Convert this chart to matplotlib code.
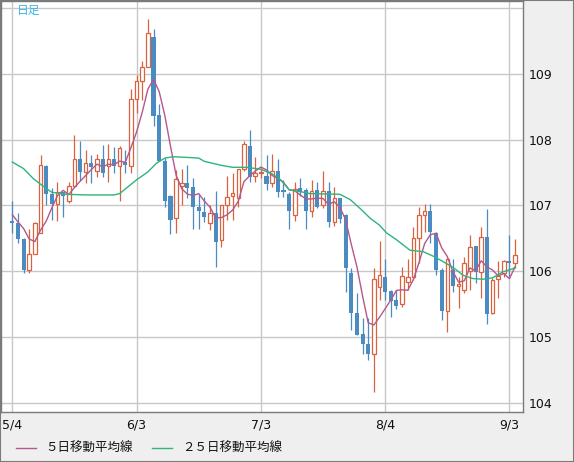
import numpy as np
import pandas as pd
import matplotlib
matplotlib.use("agg")
import matplotlib.pyplot as plt
from matplotlib.lines import Line2D
from matplotlib.patches import Rectangle

plt.rcParams['font.family'] = ['DejaVu Sans', 'Noto Sans CJK JP']

# daily USD/JPY candles, 2020-05-04 .. 2020-09-04 (one per weekday)
opens = [106.76, 106.74, 106.49, 106.02, 106.26, 106.58, 107.60, 107.17, 107.03, 107.20,
         107.07, 107.29, 107.70, 107.51, 107.64, 107.53, 107.70, 107.60, 107.70, 107.60,
         107.66, 107.60, 108.61, 108.89, 109.11, 109.56, 108.37, 107.68, 107.15, 106.81,
         107.29, 107.34, 107.28, 106.98, 106.90, 106.73, 106.88, 106.48, 107.00, 107.15,
         107.11, 107.55, 107.90, 107.45, 107.49, 107.45, 107.34, 107.52, 107.23, 107.18,
         106.85, 107.26, 107.23, 106.91, 107.23, 107.00, 107.22, 106.75, 107.11, 106.86,
         105.97, 105.36, 105.05, 104.90, 104.75, 105.76, 105.91, 105.70, 105.56, 105.50,
         105.84, 105.91, 106.50, 106.86, 106.92, 106.58, 106.02, 105.40, 106.02, 105.78,
         105.72, 106.00, 106.38, 105.99, 106.52, 105.36, 105.88, 105.98, 106.16, 106.13]
highs = [107.07, 106.89, 106.50, 106.65, 106.75, 107.77, 107.62, 107.26, 107.35, 107.21,
         107.36, 108.07, 107.98, 107.84, 107.76, 107.78, 107.92, 107.93, 107.89, 107.90,
         107.84, 108.77, 108.98, 109.19, 109.84, 109.68, 108.54, 107.72, 107.16, 107.54,
         107.55, 107.61, 107.41, 107.18, 107.13, 107.01, 107.22, 107.00, 107.45, 107.49,
         107.56, 107.98, 108.15, 107.73, 107.57, 107.77, 107.78, 107.70, 107.39, 107.20,
         107.35, 107.41, 107.26, 107.39, 107.36, 107.52, 107.35, 107.28, 107.12, 106.87,
         106.05, 105.67, 105.29, 105.29, 106.05, 106.46, 106.19, 105.71, 105.72, 106.06,
         106.19, 106.68, 106.98, 107.03, 107.03, 106.60, 106.05, 106.20, 106.19, 105.92,
         106.21, 106.55, 106.39, 106.68, 106.94, 105.90, 106.16, 106.17, 106.55, 106.49]
lows = [106.58, 106.43, 105.98, 105.98, 106.26, 106.58, 107.01, 106.78, 106.76, 106.83,
        107.04, 107.29, 107.37, 107.34, 107.34, 107.43, 107.44, 107.35, 107.49, 107.07,
        107.49, 107.50, 108.40, 108.60, 109.10, 108.21, 107.68, 106.98, 106.56, 106.58,
        107.01, 107.11, 106.65, 106.65, 106.75, 106.63, 106.07, 106.37, 106.78, 106.78,
        106.98, 107.53, 107.35, 107.35, 107.42, 107.24, 107.28, 107.13, 107.13, 106.65,
        106.77, 107.15, 106.65, 106.83, 106.96, 106.96, 106.68, 106.69, 106.73, 105.68,
        105.11, 105.03, 104.75, 104.66, 104.17, 105.56, 105.56, 105.31, 105.42, 105.46,
        105.72, 105.87, 106.12, 106.59, 106.43, 105.94, 105.26, 105.08, 105.69, 105.44,
        105.67, 105.72, 105.82, 105.59, 105.20, 105.35, 105.59, 105.92, 105.92, 106.05]
closes = [106.74, 106.49, 106.02, 106.27, 106.74, 107.61, 107.17, 107.03, 107.20, 107.14,
          107.29, 107.70, 107.51, 107.64, 107.59, 107.70, 107.50, 107.70, 107.60, 107.87,
          107.61, 108.61, 108.89, 109.10, 109.62, 108.36, 107.68, 107.07, 106.78, 107.40,
          107.34, 107.27, 106.97, 106.92, 106.83, 106.88, 106.45, 107.00, 107.13, 107.19,
          107.55, 107.94, 107.44, 107.49, 107.50, 107.33, 107.52, 107.21, 107.21, 106.92,
          107.25, 107.20, 106.91, 107.22, 106.98, 107.22, 106.75, 107.11, 106.79, 106.05,
          105.36, 105.04, 104.89, 104.75, 105.88, 105.95, 105.69, 105.55, 105.48, 105.93,
          105.91, 106.50, 106.86, 106.92, 106.59, 106.02, 105.40, 106.19, 105.77, 105.80,
          106.12, 106.37, 105.99, 106.52, 105.35, 105.87, 105.93, 106.16, 106.13, 106.25]

# 5-day MA: first four points (need April data)
ma5_head = [106.86, 106.75, 106.65, 106.49]

# 25-day MA (candle index, value)
ma25_pos = [0, 2, 3.7, 5.5, 7, 9.6, 13, 18, 19, 20, 22, 24, 25.5, 27, 28.5, 31, 33, 34, 37,
            39, 41.5, 44, 46, 47.5, 49, 51, 52.7, 58, 59.8, 61.5, 63.3, 65, 66.3, 68, 70.4,
            72.7, 74.5, 76.2, 78, 79.8, 81.5, 83.3, 85, 86.8, 88.6, 89]
ma25_val = [107.66, 107.56, 107.41, 107.29, 107.20, 107.17, 107.16, 107.16, 107.18, 107.25,
            107.39, 107.51, 107.64, 107.72, 107.74, 107.73, 107.72, 107.67, 107.61, 107.58,
            107.58, 107.55, 107.48, 107.39, 107.24, 107.21, 107.18, 107.17, 107.09, 106.96,
            106.81, 106.70, 106.58, 106.48, 106.32, 106.30, 106.23, 106.15, 106.06, 105.94,
            105.89, 105.88, 105.90, 105.99, 106.04, 106.06]

tick_idx = [0, 22, 44, 66, 88]
tick_lab = ['5/4', '6/3', '7/3', '8/4', '9/3']
y_ticks = [104, 105, 106, 107, 108, 109, 110]
y_labs = ['104', '105', '106', '107', '108', '109', '']

UP = '#d9623f'
DOWN = '#4a8bc1'
MA5_C = '#b5588a'
MA25_C = '#2fb47c'
GRID = '#c8c8c8'
BG = '#efefef'

o = np.array(opens); h = np.array(highs); l = np.array(lows); c = np.array(closes)
x = np.arange(len(o))
up = c >= o

ma5 = pd.Series(closes).rolling(5).mean().to_numpy()
ma5[:4] = ma5_head

W, H = 574, 462
fig = plt.figure(figsize=(W / 100, H / 100), dpi=100, facecolor=BG)
ax = fig.add_axes([1 / W, 50 / H, 522 / W, 411 / H])
ax.set_facecolor('white')

ax.vlines(x[up], l[up], h[up], color=UP, lw=0.9, zorder=2)
ax.vlines(x[~up], l[~up], h[~up], color=DOWN, lw=0.9, zorder=2)

body_lo = np.minimum(o, c)
body_h = np.maximum(np.abs(c - o), 0.012)
ax.bar(x[up], body_h[up], bottom=body_lo[up], width=0.62, facecolor='white',
       edgecolor=UP, linewidth=0.9, zorder=3)
ax.bar(x[~up], body_h[~up], bottom=body_lo[~up], width=0.72, color=DOWN,
       linewidth=0, zorder=3)

ax.plot(x, ma5, color=MA5_C, lw=1.0, zorder=4)
ax.plot(ma25_pos, ma25_val, color=MA25_C, lw=1.0, zorder=4)

ax.set_xlim(-2.0, 90.4)
ax.set_ylim(103.863, 110.106)
ax.set_xticks(tick_idx)
ax.set_xticklabels(tick_lab)
ax.set_yticks(y_ticks)
ax.set_yticklabels(y_labs)
ax.yaxis.tick_right()
ax.tick_params(length=0, labelsize=9, colors='#111111')
ax.tick_params(axis='y', pad=4)
ax.tick_params(axis='x', pad=5)
ax.grid(True, color=GRID, lw=1.0, zorder=0)
ax.set_axisbelow(True)
for s in ax.spines.values():
    s.set_color('#7a7a7a')
    s.set_linewidth(1.0)

ax.text(16 / 522, 1 - 3 / 411, '日足', transform=ax.transAxes, ha='left', va='top',
        color='#3cb4e6', fontsize=8.5, family=['Noto Sans CJK JP', 'DejaVu Sans'])

# legend along the bottom
ly = 1 - 448 / H
fig.add_artist(Line2D([16 / W, 36 / W], [ly, ly], color=MA5_C, lw=1.0))
fig.text(45 / W, ly, '５日移動平均線', ha='left', va='center', fontsize=9,
         family=['Noto Sans CJK JP', 'DejaVu Sans'], color='#111111')
fig.add_artist(Line2D([152 / W, 172 / W], [ly, ly], color=MA25_C, lw=1.0))
fig.text(182 / W, ly, '２５日移動平均線', ha='left', va='center', fontsize=9,
         family=['Noto Sans CJK JP', 'DejaVu Sans'], color='#111111')

fig.add_artist(Rectangle((0, 0), 1, 1, transform=fig.transFigure, fill=False,
                         edgecolor='#7a7a7a', lw=1.5))

fig.savefig('out.png', dpi=100, facecolor=BG)
